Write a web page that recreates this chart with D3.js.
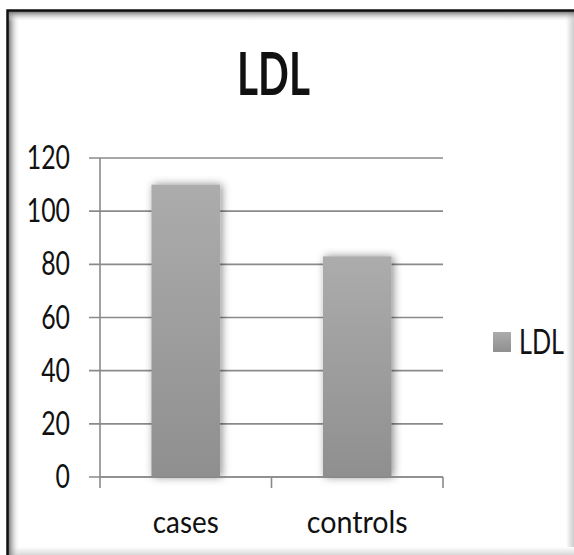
<!DOCTYPE html>
<html>
<head>
<meta charset="utf-8">
<script src="https://cdn.jsdelivr.net/npm/d3@7"></script>
<style>
  html, body { margin: 0; padding: 0; background: #fff; }
  svg { display: block; }
  text { font-family: Lato, "Open Sans", sans-serif; fill: #111; }
</style>
</head>
<body>
<svg id="chart" width="574" height="555"></svg>
<script>
// LDL levels by group
const categories = ["cases", "controls"];
const ldlValues = [110, 83];
const yTicks = [0, 20, 40, 60, 80, 100, 120];
const seriesName = "LDL";
const chartTitle = "LDL";

const W = 574, H = 555;
const svg = d3.select("#chart");
const defs = svg.append("defs");

// Place a text so that it spans `width` pixels horizontally, anchored at
// (x, y) with the given anchor, by squeezing the glyphs horizontally.
function condensedText(parent, str, x, y, width, size, anchor, weight) {
  const t = parent.append("text")
    .attr("font-size", size)
    .attr("font-weight", weight || 400)
    .text(str);
  const natural = t.node().getComputedTextLength();
  const sx = width / natural;
  const left = anchor === "end" ? x - width : anchor === "middle" ? x - width / 2 : x;
  t.attr("transform", `translate(${left},${y}) scale(${sx},1)`);
  return t;
}

// bar fill: lighter at the top, darker at the base
const barGrad = defs.append("linearGradient")
  .attr("id", "barGrad").attr("x1", 0).attr("y1", 0).attr("x2", 0).attr("y2", 1);
barGrad.append("stop").attr("offset", "0%").attr("stop-color", "#acacac");
barGrad.append("stop").attr("offset", "100%").attr("stop-color", "#8f8f8f");

// soft glow around bars
const sh = defs.append("filter").attr("id", "barShadow")
  .attr("x", "-40%").attr("y", "-10%").attr("width", "180%").attr("height", "115%");
sh.append("feDropShadow").attr("dx", 2).attr("dy", 0)
  .attr("stdDeviation", 4).attr("flood-color", "#000").attr("flood-opacity", 0.45);

// frame shading gradients
const gl = defs.append("linearGradient").attr("id", "frameL").attr("x1", 0).attr("x2", 1).attr("y1", 0).attr("y2", 0);
gl.append("stop").attr("offset", "0%").attr("stop-color", "#6a6a6a");
gl.append("stop").attr("offset", "100%").attr("stop-color", "#fff").attr("stop-opacity", 0);
const gt = defs.append("linearGradient").attr("id", "frameT").attr("x1", 0).attr("x2", 0).attr("y1", 0).attr("y2", 1);
gt.append("stop").attr("offset", "0%").attr("stop-color", "#6a6a6a");
gt.append("stop").attr("offset", "100%").attr("stop-color", "#fff").attr("stop-opacity", 0);
const gr = defs.append("linearGradient").attr("id", "frameR").attr("x1", 0).attr("x2", 1).attr("y1", 0).attr("y2", 0);
gr.append("stop").attr("offset", "0%").attr("stop-color", "#fff");
gr.append("stop").attr("offset", "100%").attr("stop-color", "#cccccc");
const gb = defs.append("linearGradient").attr("id", "frameB").attr("x1", 0).attr("x2", 0).attr("y1", 0).attr("y2", 1);
gb.append("stop").attr("offset", "0%").attr("stop-color", "#fff");
gb.append("stop").attr("offset", "100%").attr("stop-color", "#d8d8d8");

svg.append("rect").attr("width", W).attr("height", H).attr("fill", "#fff");

// chart frame: dark edge on top/left with inner shading
svg.append("rect").attr("x", 566).attr("y", 11).attr("width", 8).attr("height", H - 11).attr("fill", "url(#frameR)");
svg.append("rect").attr("x", 8).attr("y", 547).attr("width", W - 8).attr("height", 8).attr("fill", "url(#frameB)");
svg.append("rect").attr("x", 8).attr("y", 11).attr("width", 12).attr("height", H - 11).attr("fill", "url(#frameL)");
svg.append("rect").attr("x", 8).attr("y", 11).attr("width", W - 8).attr("height", 11).attr("fill", "url(#frameT)");
svg.append("path").attr("d", `M7.5,${H} V10.5 H${W}`)
  .attr("fill", "none").attr("stroke", "#111").attr("stroke-width", 2.5);

// scales
const x = d3.scaleBand().domain(categories).range([100, 443]).paddingInner(0.6).paddingOuter(0.3);
const xOuter = d3.scaleBand().domain(categories).range([100, 443]).padding(0);
const y = d3.scaleLinear().domain([0, 120]).range([477, 158]);

const gridColor = "#8a8a8a";

// horizontal gridlines with left tick marks
svg.append("g").selectAll("line").data(yTicks).join("line")
  .attr("x1", 89).attr("x2", 443)
  .attr("y1", d => y(d)).attr("y2", d => y(d))
  .attr("stroke", gridColor).attr("stroke-width", 1.6);

// y axis line
svg.append("line").attr("x1", 100).attr("x2", 100)
  .attr("y1", y(120)).attr("y2", y(0) + 11)
  .attr("stroke", gridColor).attr("stroke-width", 1.6);

// x axis category boundary ticks
const xBounds = categories.map(c => xOuter(c) + xOuter.bandwidth());
svg.append("g").selectAll("line").data(xBounds).join("line")
  .attr("x1", d => d).attr("x2", d => d)
  .attr("y1", y(0)).attr("y2", y(0) + 11)
  .attr("stroke", gridColor).attr("stroke-width", 1.6);

// bars
svg.append("g").selectAll("rect").data(categories).join("rect")
  .attr("x", d => x(d))
  .attr("y", (d, i) => y(ldlValues[i]))
  .attr("width", x.bandwidth())
  .attr("height", (d, i) => y(0) - y(ldlValues[i]))
  .attr("fill", "url(#barGrad)")
  .attr("filter", "url(#barShadow)");

// x axis baseline over the bars
svg.append("line").attr("x1", 100).attr("x2", 443)
  .attr("y1", y(0)).attr("y2", y(0))
  .attr("stroke", gridColor).attr("stroke-width", 1.6);

// y tick labels
const yLabels = svg.append("g");
yTicks.forEach(d => {
  condensedText(yLabels, String(d), 70, y(d) + 11, String(d).length * 14.4, 32, "end");
});

// category labels
const catWidths = { cases: 66, controls: 101 };
const xLabels = svg.append("g");
categories.forEach(c => {
  condensedText(xLabels, c, x(c) + x.bandwidth() / 2, 533, catWidths[c], 30, "middle");
});

// title
condensedText(svg, chartTitle, 273.5, 95, 73, 59, "middle", 700);

// legend
svg.append("rect").attr("x", 493).attr("y", 332).attr("width", 18).attr("height", 20)
  .attr("fill", "url(#barGrad)");
condensedText(svg, seriesName, 519, 354, 45, 34, "start");
</script>
</body>
</html>
